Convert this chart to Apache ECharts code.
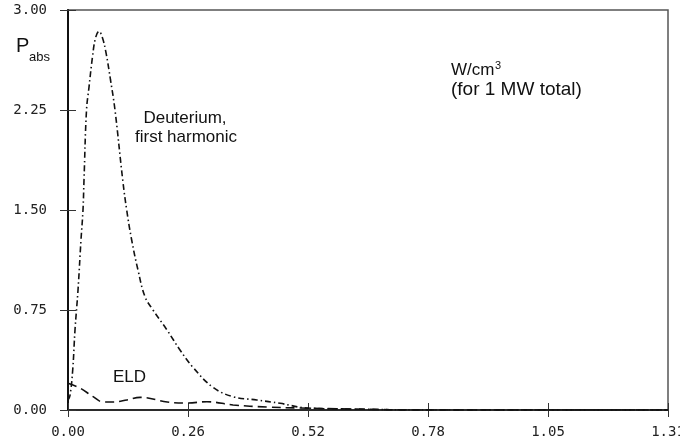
<!DOCTYPE html>
<html>
<head>
<meta charset="utf-8">
<script src="https://cdn.jsdelivr.net/npm/echarts@6/dist/echarts.min.js"></script>
<style>
  html, body { margin: 0; padding: 0; background: #fff; }
  #chart { width: 680px; height: 445px; }
</style>
</head>
<body>
<div id="chart"></div>
<script>
// Absorbed power density profiles vs. minor radius
const xTickLabels = ["0.00", "0.26", "0.52", "0.78", "1.05", "1.31"];
const yTickLabels = ["0.00", "0.75", "1.50", "2.25", "3.00"];

// Deuterium, first harmonic (dash-dot)
const deutX = [0, 0.0044, 0.0103, 0.0153, 0.0219, 0.0284, 0.0328, 0.035, 0.0405, 0.0459, 0.0536, 0.0602, 0.0678,
  0.0755, 0.0831, 0.093, 0.1028, 0.1197, 0.1284, 0.1393, 0.1531, 0.1684, 0.186, 0.2166, 0.245, 0.2734,
  0.3172, 0.361, 0.413, 0.464, 0.523, 0.617, 0.79, 1.3125];
const deutY = [0.075, 0.11, 0.30, 0.60, 0.90, 1.275, 1.50, 1.725, 2.25, 2.42, 2.65, 2.79, 2.84,
  2.79, 2.68, 2.475, 2.25, 1.725, 1.50, 1.275, 1.05, 0.85, 0.75, 0.60, 0.45, 0.32,
  0.17, 0.10, 0.075, 0.05, 0.015, 0.0075, 0.0, 0.0];

// ELD (dashed)
const eldX = [0, 0.026, 0.055, 0.077, 0.098, 0.129, 0.158, 0.217, 0.261, 0.304, 0.361, 0.435, 0.508, 0.617, 0.79, 1.3125];
const eldY = [0.20, 0.165, 0.10, 0.06, 0.06, 0.075, 0.095, 0.06, 0.052, 0.062, 0.038, 0.022, 0.015, 0.0075, 0.0, 0.0];

const xStep = 0.2625;
const toPairs = (xs, ys) => xs.map((x, i) => [x, ys[i]]);

const monoFont = "'DejaVu Sans Mono', monospace";
const sansFont = "'Liberation Sans', Arial, sans-serif";

const chart = echarts.init(document.getElementById('chart'), null, { renderer: 'canvas' });

const xBase = { type: 'value', min: 0, max: 1.3125, interval: xStep, splitLine: { show: false } };
const yBase = { type: 'value', min: 0, max: 3, interval: 0.75, splitLine: { show: false } };

chart.setOption({
  animation: false,
  backgroundColor: '#fff',
  grid: {
    left: 68, right: 12, top: 10, bottom: 35,
    containLabel: false, outerBoundsMode: 'none',
    show: true, borderColor: '#555', borderWidth: 1.5, backgroundColor: 'transparent'
  },
  xAxis: [
    Object.assign({}, xBase, {
      position: 'bottom',
      axisLine: { show: true, onZero: false, lineStyle: { color: '#111', width: 1.5 } },
      axisTick: { show: true, inside: false, length: 7, lineStyle: { color: '#333', width: 1 } },
      axisLabel: {
        margin: 15, color: '#222', fontFamily: monoFont, fontSize: 14,
        formatter: v => xTickLabels[Math.round(v / xStep)]
      }
    }),
    Object.assign({}, xBase, {
      position: 'bottom',
      axisLine: { show: false, onZero: false },
      axisTick: { show: true, inside: true, length: 7, lineStyle: { color: '#333', width: 1 } },
      axisLabel: { show: false }
    })
  ],
  yAxis: [
    Object.assign({}, yBase, {
      position: 'left',
      axisLine: { show: true, onZero: false, lineStyle: { color: '#111', width: 2 } },
      axisTick: { show: true, inside: false, length: 8, lineStyle: { color: '#333', width: 1 } },
      axisLabel: {
        margin: 21, color: '#222', fontFamily: monoFont, fontSize: 14,
        formatter: v => yTickLabels[Math.round(v / 0.75)]
      }
    }),
    Object.assign({}, yBase, {
      position: 'left',
      axisLine: { show: false, onZero: false },
      axisTick: { show: true, inside: true, length: 8, lineStyle: { color: '#333', width: 1 } },
      axisLabel: { show: false }
    })
  ],
  series: [
    {
      name: 'Deuterium, first harmonic',
      type: 'line',
      xAxisIndex: 0, yAxisIndex: 0,
      data: toPairs(deutX, deutY),
      showSymbol: false,
      smooth: 0.4,
      lineStyle: { color: '#111', width: 1.6, type: [6, 3, 1.5, 3] }
    },
    {
      name: 'ELD',
      type: 'line',
      xAxisIndex: 0, yAxisIndex: 0,
      data: toPairs(eldX, eldY),
      showSymbol: false,
      smooth: 0.4,
      lineStyle: { color: '#111', width: 1.6, type: [9, 5] }
    }
  ],
  graphic: [
    { type: 'text', left: 16, top: 36, style: { text: 'P', font: '20px ' + sansFont, fill: '#111' } },
    { type: 'text', left: 29, top: 51, style: { text: 'abs', font: '13px ' + sansFont, fill: '#111' } },
    { type: 'text', left: 451, top: 62, style: { text: 'W/cm', font: '17px ' + sansFont, fill: '#111' } },
    { type: 'text', left: 495, top: 60, style: { text: '3', font: '11px ' + sansFont, fill: '#111' } },
    { type: 'text', left: 451, top: 80, style: { text: '(for 1 MW total)', font: '19px ' + sansFont, fill: '#111' } },
    { type: 'text', x: 185, y: 110, style: { text: 'Deuterium,', font: '17px ' + sansFont, fill: '#111', textAlign: 'center' } },
    { type: 'text', x: 186, y: 129, style: { text: 'first harmonic', font: '17px ' + sansFont, fill: '#111', textAlign: 'center' } },
    { type: 'text', left: 113, top: 369, style: { text: 'ELD', font: '17px ' + sansFont, fill: '#111' } }
  ]
});
</script>
</body>
</html>
